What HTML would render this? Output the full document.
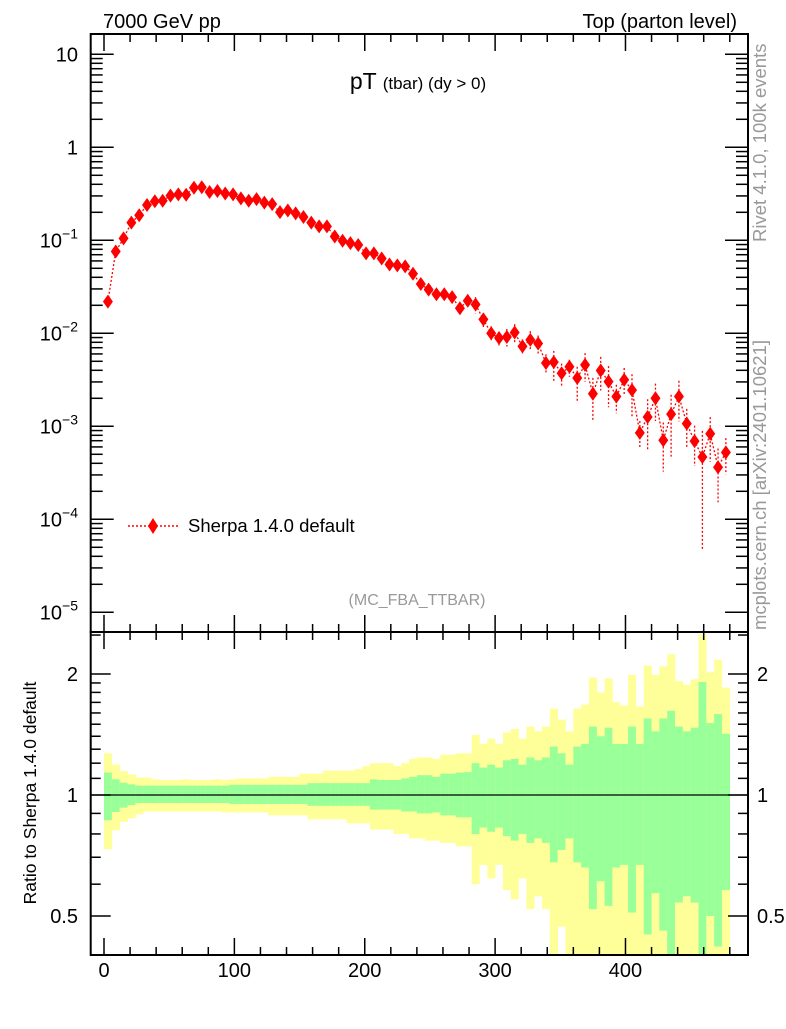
<!DOCTYPE html>
<html><head><meta charset="utf-8"><style>
body{margin:0;background:#fff;}
svg text{font-family:"Liberation Sans",sans-serif;}
</style></head><body>
<svg id="chart" width="786" height="1024" viewBox="0 0 786 1024" xmlns="http://www.w3.org/2000/svg">
<g id="ratio-bands"></g>
<g id="main-series"></g>
<g id="axes"></g>
<text x="103" y="28" font-size="20">7000 GeV pp</text>
<text x="737" y="28" font-size="20" text-anchor="end">Top (parton level)</text>
<text x="418" y="89" text-anchor="middle"><tspan font-size="23">pT </tspan><tspan font-size="17">(tbar) (dy &gt; 0)</tspan></text>
<text x="417" y="605" text-anchor="middle" font-size="16" fill="#999">(MC_FBA_TTBAR)</text>
<text transform="translate(766,242) rotate(-90)" font-size="18.5" fill="#999">Rivet 4.1.0,  100k events</text>
<text transform="translate(766,630) rotate(-90)" font-size="18.5" fill="#999">mcplots.cern.ch [arXiv:2401.10621]</text>
<text transform="translate(36,793) rotate(-90)" font-size="17.5" text-anchor="middle">Ratio to Sherpa 1.4.0 default</text>
<g>
<line x1="128" y1="526" x2="178" y2="526" stroke="red" stroke-width="1.5" stroke-dasharray="2,2"/>
<polygon points="153,518 158,526 153,534 148,526" fill="red"/>
<text x="188" y="532" font-size="18.5">Sherpa 1.4.0 default</text>
</g>
</svg>
<script>
const binEdges0 = 0, binWidth = 6;
const values = [0.0219,0.0759,0.105,0.155,0.186,0.240,0.263,0.266,0.302,0.312,0.309,0.367,0.372,0.331,0.339,0.319,0.312,0.282,0.266,0.277,0.254,0.245,0.201,0.209,0.195,0.178,0.155,0.141,0.141,0.110,0.0989,0.0933,0.0891,0.0724,0.0724,0.0638,0.0550,0.0537,0.0525,0.0437,0.0339,0.0295,0.0263,0.0263,0.0245,0.0186,0.0224,0.0204,0.0141,0.0100,0.00891,0.00912,0.0102,0.00724,0.00851,0.00776,0.00479,0.00490,0.00372,0.00437,0.00331,0.00457,0.00224,0.00398,0.00302,0.00209,0.00316,0.00245,0.000851,0.00126,0.00200,0.000708,0.00135,0.00209,0.00107,0.000692,0.000468,0.000832,0.000363,0.000525];
const yellowUp = [1.27,1.19,1.147,1.126,1.106,1.106,1.094,1.09,1.09,1.09,1.094,1.09,1.09,1.09,1.094,1.09,1.094,1.10,1.10,1.10,1.10,1.11,1.11,1.11,1.11,1.13,1.13,1.13,1.15,1.15,1.15,1.15,1.16,1.18,1.20,1.20,1.20,1.18,1.20,1.23,1.24,1.24,1.23,1.26,1.26,1.27,1.27,1.41,1.34,1.38,1.34,1.43,1.46,1.38,1.48,1.44,1.48,1.64,1.54,1.44,1.64,1.68,1.96,1.80,1.95,1.70,1.67,1.99,1.66,2.10,1.99,2.09,2.24,1.92,1.88,1.94,2.51,2.02,2.17,1.85];
const greenUp = [1.137,1.094,1.073,1.063,1.055,1.055,1.055,1.055,1.055,1.055,1.055,1.055,1.055,1.055,1.055,1.055,1.06,1.06,1.06,1.06,1.06,1.06,1.06,1.06,1.06,1.06,1.07,1.07,1.07,1.07,1.07,1.07,1.07,1.07,1.094,1.09,1.09,1.09,1.10,1.11,1.12,1.12,1.11,1.13,1.13,1.137,1.14,1.20,1.17,1.19,1.17,1.22,1.23,1.19,1.24,1.22,1.24,1.32,1.27,1.19,1.32,1.34,1.48,1.40,1.47,1.34,1.34,1.48,1.34,1.55,1.44,1.55,1.62,1.48,1.44,1.47,1.91,1.51,1.59,1.42];
const greenDn = [0.865,0.907,0.93,0.944,0.955,0.955,0.955,0.955,0.955,0.955,0.955,0.955,0.955,0.955,0.955,0.955,0.95,0.95,0.95,0.95,0.95,0.95,0.95,0.95,0.95,0.95,0.94,0.94,0.94,0.94,0.94,0.94,0.94,0.94,0.92,0.92,0.92,0.92,0.91,0.91,0.90,0.90,0.905,0.89,0.89,0.88,0.88,0.80,0.83,0.81,0.83,0.79,0.77,0.80,0.76,0.78,0.76,0.68,0.73,0.78,0.68,0.66,0.52,0.61,0.53,0.66,0.67,0.51,0.67,0.45,0.57,0.46,0.35,0.54,0.56,0.54,0.35,0.50,0.42,0.58];
const yellowDn = [0.733,0.817,0.857,0.875,0.895,0.91,0.91,0.91,0.91,0.91,0.91,0.91,0.91,0.91,0.91,0.905,0.905,0.905,0.905,0.905,0.905,0.89,0.89,0.89,0.89,0.89,0.87,0.87,0.87,0.87,0.87,0.85,0.85,0.85,0.82,0.82,0.82,0.80,0.80,0.78,0.78,0.77,0.77,0.76,0.76,0.745,0.745,0.60,0.67,0.62,0.67,0.58,0.55,0.62,0.52,0.56,0.52,0.30,0.47,0.30,0.30,0.30,0.30,0.30,0.30,0.30,0.30,0.30,0.30,0.30,0.30,0.30,0.30,0.30,0.30,0.30,0.10,0.30,0.30,0.30];
const errUp = [1.137,1.094,1.073,1.063,1.055,1.055,1.055,1.055,1.055,1.055,1.055,1.055,1.055,1.055,1.055,1.055,1.06,1.06,1.06,1.06,1.06,1.06,1.06,1.06,1.06,1.06,1.07,1.07,1.07,1.07,1.07,1.07,1.07,1.07,1.094,1.09,1.09,1.09,1.10,1.11,1.12,1.12,1.11,1.13,1.13,1.137,1.14,1.20,1.17,1.19,1.17,1.22,1.23,1.19,1.24,1.22,1.24,1.32,1.27,1.19,1.32,1.34,1.48,1.40,1.47,1.34,1.34,1.48,1.34,1.55,1.44,1.55,1.62,1.48,1.44,1.47,1.91,1.51,1.59,1.42];
const errDn = [0.865,0.907,0.93,0.944,0.955,0.955,0.955,0.955,0.955,0.955,0.955,0.955,0.955,0.955,0.955,0.955,0.95,0.95,0.95,0.95,0.95,0.95,0.95,0.95,0.95,0.95,0.94,0.94,0.94,0.94,0.94,0.94,0.94,0.94,0.92,0.92,0.92,0.92,0.91,0.91,0.90,0.90,0.905,0.89,0.89,0.88,0.88,0.80,0.83,0.81,0.83,0.79,0.77,0.80,0.76,0.78,0.76,0.60,0.73,0.78,0.55,0.66,0.52,0.61,0.53,0.66,0.67,0.51,0.67,0.45,0.57,0.46,0.35,0.54,0.56,0.54,0.10,0.50,0.42,0.58];
const xTicks = [0,100,200,300,400];
const yDecades = [-5,-4,-3,-2,-1,0,1];
const ratioTicks = [0.5,1,2];

const NS='http://www.w3.org/2000/svg';
const L=90.7,R=748,T=34,MB=632,RB=955;
const xPx=v=>104+1.3037*v;
const yPx=v=>147.3-93*Math.log10(v);
const rPx=r=>Math.min(RB,Math.max(MB,795-121*Math.log2(r)));
function mk(tag,attrs,parent){const e=document.createElementNS(NS,tag);for(const k in attrs)e.setAttribute(k,attrs[k]);parent.appendChild(e);return e;}
const bands=document.getElementById('ratio-bands');
const series=document.getElementById('main-series');
const axes=document.getElementById('axes');

values.forEach((v,i)=>{
  const x0=xPx(binEdges0+i*binWidth),x1=xPx(binEdges0+(i+1)*binWidth);
  const y=mk('rect',{x:x0,y:rPx(yellowUp[i]),width:x1-x0+0.3,height:rPx(yellowDn[i])-rPx(yellowUp[i]),fill:'#ffff99'},bands);
  
  
  const g=mk('rect',{x:x0,y:rPx(greenUp[i]),width:x1-x0+0.3,height:rPx(greenDn[i])-rPx(greenUp[i]),fill:'#99ff99'},bands);
  
  
});
const rl=mk('line',{x1:L,x2:R,y1:rPx(1),y2:rPx(1),stroke:'#000','stroke-width':1.2},bands);



const clipY=y=>Math.min(MB,Math.max(T,y));
let pts=values.map((v,i)=>xPx(binEdges0+(i+0.5)*binWidth)+','+yPx(v)).join(' ');
const pl=mk('polyline',{points:pts,fill:'none',stroke:'red','stroke-width':1.3,'stroke-dasharray':'2,2'},series);


values.forEach((v,i)=>{
  const cx=xPx(binEdges0+(i+0.5)*binWidth),cy=yPx(v);
  const e=mk('line',{x1:cx,x2:cx,y1:clipY(yPx(v*errUp[i])),y2:clipY(yPx(v*errDn[i])),stroke:'red','stroke-width':1.3,'stroke-dasharray':'2,2'},series);
  
  
  const d=mk('polygon',{points:`${cx},${cy-7} ${cx+5},${cy} ${cx},${cy+7} ${cx-5},${cy}`,fill:'red'},series);
  
  
});

[[T,MB],[MB,RB]].forEach(([a,b])=>{
  const f=mk('rect',{x:L,y:a,width:R-L,height:b-a,fill:'none',stroke:'#000','stroke-width':2},axes);
  
  
});
for(let v=0;v<=480;v+=20){
  const x=xPx(v),maj=v%100===0,len=maj?17:8;
  [[T,1],[MB,-1],[MB,1],[RB,-1]].forEach(([y0,s])=>{
    mk('line',{x1:x,x2:x,y1:y0,y2:y0+s*len,stroke:'#000','stroke-width':1.5},axes);
  });
}
xTicks.forEach(v=>{
  const t=mk('text',{x:xPx(v),y:977,'font-size':20,'text-anchor':'middle'},axes);
  t.textContent=v;
  
  
});
yDecades.forEach(d=>{
  for(let m=1;m<=9;m++){
    const y=yPx(m*Math.pow(10,d));
    if(y<T||y>MB)continue;
    const len=m===1?23:12;
    mk('line',{x1:L,x2:L+len,y1:y,y2:y,stroke:'#000','stroke-width':1.5},axes);
    mk('line',{x1:R,x2:R-len,y1:y,y2:y,stroke:'#000','stroke-width':1.5},axes);
  }
  const t=mk('text',{x:78,y:yPx(Math.pow(10,d))+7,'font-size':20,'text-anchor':'end'},axes);
  
  
  if(d===0)t.textContent='1';
  else if(d===1)t.textContent='10';
  else{t.textContent='10';const s=mk('tspan',{dy:-9,'font-size':14},t);s.textContent='\u2212'+(-d);}
});
[0.4,0.5,0.6,0.7,0.8,0.9,1,1.1,1.2,1.3,1.4,1.5,1.6,1.7,1.8,1.9,2,2.5].forEach(r=>{
  const y=795-121*Math.log2(r);if(y<MB||y>RB)return;
  const len=ratioTicks.includes(r)?20:10;
  mk('line',{x1:L,x2:L+len,y1:y,y2:y,stroke:'#000','stroke-width':1.5},axes);
  mk('line',{x1:R,x2:R-len,y1:y,y2:y,stroke:'#000','stroke-width':1.5},axes);
});
ratioTicks.forEach(r=>{
  const y=rPx(r)+7;
  const a=mk('text',{x:78,y:y,'font-size':20,'text-anchor':'end'},axes);a.textContent=r;
  
  
  const b=mk('text',{x:757,y:y,'font-size':20},axes);b.textContent=r;
  
  
});
</script>
</body></html>
